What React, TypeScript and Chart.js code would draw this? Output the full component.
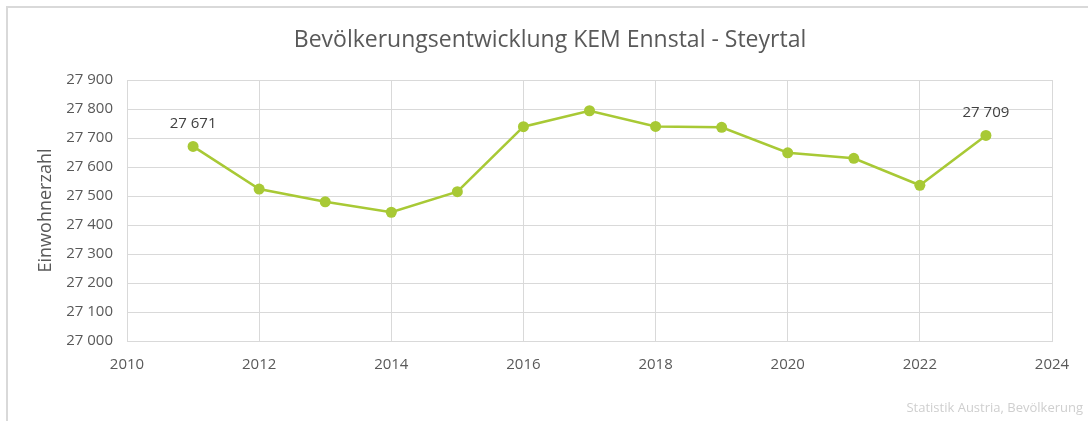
import React, { useEffect, useRef } from "react";
import { Chart, registerables } from "chart.js";

Chart.register(...registerables);

const years = [2011, 2012, 2013, 2014, 2015, 2016, 2017, 2018, 2019, 2020, 2021, 2022, 2023];
const population = [27671, 27524, 27480, 27444, 27515, 27739, 27794, 27740, 27737, 27649, 27630, 27537, 27709];
const labeledYears = [2011, 2023];
const titleText = "Bevölkerungsentwicklung KEM Ennstal - Steyrtal";
const yAxisTitle = "Einwohnerzahl";
const sourceText = "Statistik Austria, Bevölkerung";

const FONT = "'Open Sans', 'Noto Sans', sans-serif";
const fmt = (v: number) => {
  const s = Math.round(v).toString();
  return s.slice(0, s.length - 3) + " " + s.slice(s.length - 3);
};

export default function App() {
  const ref = useRef<HTMLCanvasElement>(null);
  useEffect(() => {
    if (!ref.current) return;
    const decor = {
      id: "decor",
      beforeDraw(chart: any) {
        const ctx = chart.ctx;
        ctx.save();
        ctx.fillStyle = "#ffffff";
        ctx.fillRect(0, 0, chart.width, chart.height);
        ctx.strokeStyle = "#d9d9d9";
        ctx.lineWidth = 2;
        ctx.beginPath();
        ctx.moveTo(7, chart.height);
        ctx.lineTo(7, 7);
        ctx.lineTo(chart.width, 7);
        ctx.stroke();
        ctx.restore();
      },
      afterDraw(chart: any) {
        const ctx = chart.ctx;
        ctx.save();
        ctx.fillStyle = "#595959";
        ctx.font = `23px ${FONT}`;
        ctx.textAlign = "center";
        ctx.textBaseline = "middle";
        ctx.fillText(titleText, 550, 40);
        ctx.fillStyle = "#cfcfcf";
        ctx.font = `13px ${FONT}`;
        ctx.textAlign = "right";
        ctx.fillText(sourceText, 1083, 408);
        const meta = chart.getDatasetMeta(0);
        ctx.fillStyle = "#404040";
        ctx.font = `15px ${FONT}`;
        ctx.textAlign = "center";
        years.forEach((y, i) => {
          if (labeledYears.includes(y)) {
            const p = meta.data[i];
            ctx.fillText(fmt(population[i]), p.x, p.y - 23);
          }
        });
        ctx.restore();
      },
    };
    const chart = new Chart(ref.current, {
      type: "line",
      data: {
        datasets: [
          {
            data: years.map((y, i) => ({ x: y, y: population[i] })),
            borderColor: "#a8c935",
            backgroundColor: "#a8c935",
            borderWidth: 2.5,
            pointRadius: 5.5,
            pointBackgroundColor: "#a8c935",
            pointBorderWidth: 0,
            tension: 0,
          },
        ],
      },
      options: {
        animation: false,
        responsive: false,
        layout: { padding: { left: 0, right: 36, top: 80, bottom: 0 } },
        plugins: { legend: { display: false }, tooltip: { enabled: false } },
        scales: {
          x: {
            type: "linear",
            min: 2010,
            max: 2024,
            ticks: { stepSize: 2, color: "#595959", font: { family: FONT, size: 15 }, padding: 15, callback: (v: any) => String(v) },
            grid: { color: "#d9d9d9", drawTicks: false },
            border: { color: "#d9d9d9" },
            afterFit: (s: any) => { s.height = 80; },
          },
          y: {
            min: 27000,
            max: 27900,
            ticks: { stepSize: 100, color: "#595959", font: { family: FONT, size: 15 }, padding: 14, callback: (v: any) => fmt(v) },
            grid: { color: "#d9d9d9", drawTicks: false },
            border: { color: "#d9d9d9" },
            title: { display: true, text: yAxisTitle, color: "#595959", font: { family: FONT, size: 18 }, padding: { top: 35, bottom: 0 } },
            afterFit: (s: any) => { s.width = 127; },
          },
        },
      },
      plugins: [decor],
    });
    return () => chart.destroy();
  }, []);
  return (
    <div style={{ position: "absolute", left: 0, top: 0, width: 1088, height: 421 }}>
      <canvas ref={ref} width={1088} height={421} style={{ display: "block" }} />
    </div>
  );
}
